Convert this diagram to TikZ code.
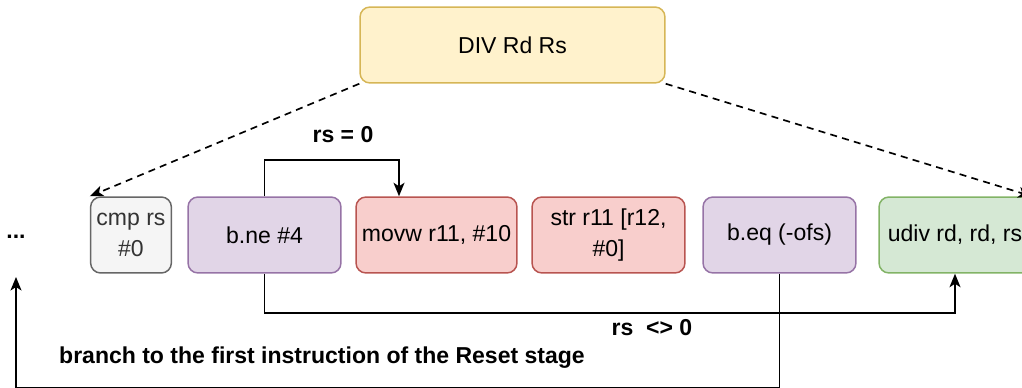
\documentclass[tikz,border=0pt]{standalone}
\usepackage{fontspec}
\setmainfont{Liberation Sans}
\usetikzlibrary{arrows.meta}
\definecolor{divfill}{HTML}{FFF2CC}
\definecolor{divline}{HTML}{D6B656}
\definecolor{cmpfill}{HTML}{F5F5F5}
\definecolor{cmpline}{HTML}{666666}
\definecolor{cmptext}{HTML}{333333}
\definecolor{brfill}{HTML}{E1D5E7}
\definecolor{brline}{HTML}{9673A6}
\definecolor{stfill}{HTML}{F8CECC}
\definecolor{stline}{HTML}{B85450}
\definecolor{opfill}{HTML}{D5E8D4}
\definecolor{opline}{HTML}{82B366}
\tikzset{
  instr/.style={draw, rounded corners=0.2cm, line width=0.85pt,
    minimum width=3.06cm, minimum height=1.52cm, align=center,
    font=\fontsize{13.1}{18}\selectfont},
  branch/.style={instr, fill=brfill, draw=brline},
  store/.style={instr, fill=stfill, draw=stline},
  conn/.style={line width=0.95pt, -{Stealth[length=0.27cm,width=0.22cm,inset=0.07cm]}},
  dconn/.style={conn, dash pattern=on 4pt off 3pt},
  lbl/.style={font=\fontsize{13.1}{15}\selectfont\bfseries}
}
\begin{document}
\begin{tikzpicture}[x=0.02cm,y=-0.02cm]
  \useasboundingbox (0,0) rectangle (1022,388);
  \node[instr, fill=divfill, draw=divline, minimum width=6.1cm] (div) at (512.5,45) {DIV Rd Rs};
  \node[instr, fill=cmpfill, draw=cmpline, text=cmptext, minimum width=1.56cm] (cmp) at (131,235) {cmp rs\\\#0};
  \node[branch] (bne) at (264.5,235) {b.ne \#4};
  \node[store] (movw) at (436.5,235) {movw r11, \#10};
  \node[store] (str) at (608.5,235) {str r11 [r12,\\\#0]};
  \node[branch] (beq) at (779.5,235) {b.eq (-ofs)};
  \node[instr, fill=opfill, draw=opline, minimum width=3.04cm] (udiv) at (955,235) {udiv rd, rd, rs};
  \node[lbl] (dots) at (16,237) {...};
  \coordinate (back) at (16,277);
  \coordinate (eqturn) at (399,160);

  \draw[dconn] (div.south west) -- (cmp.north west);
  \draw[dconn] (div.south east) -- (udiv.north east);
  \draw[conn] (bne.north) |- (eqturn) -- (eqturn |- movw.north);
  \draw[conn] (bne.south) -- ++(0,39) -| (udiv.south);
  \draw[conn] (beq.south) -- ++(0,114.5) -| (back);

  \node[lbl] (eqlbl) at (343,135) {rs = 0};
  \node[lbl] (nelbl) at (652,328) {rs\ \ <> 0};
  \node[lbl] (resetlbl) at (322,358) {branch to the first instruction of the Reset stage};
\end{tikzpicture}
\end{document}
